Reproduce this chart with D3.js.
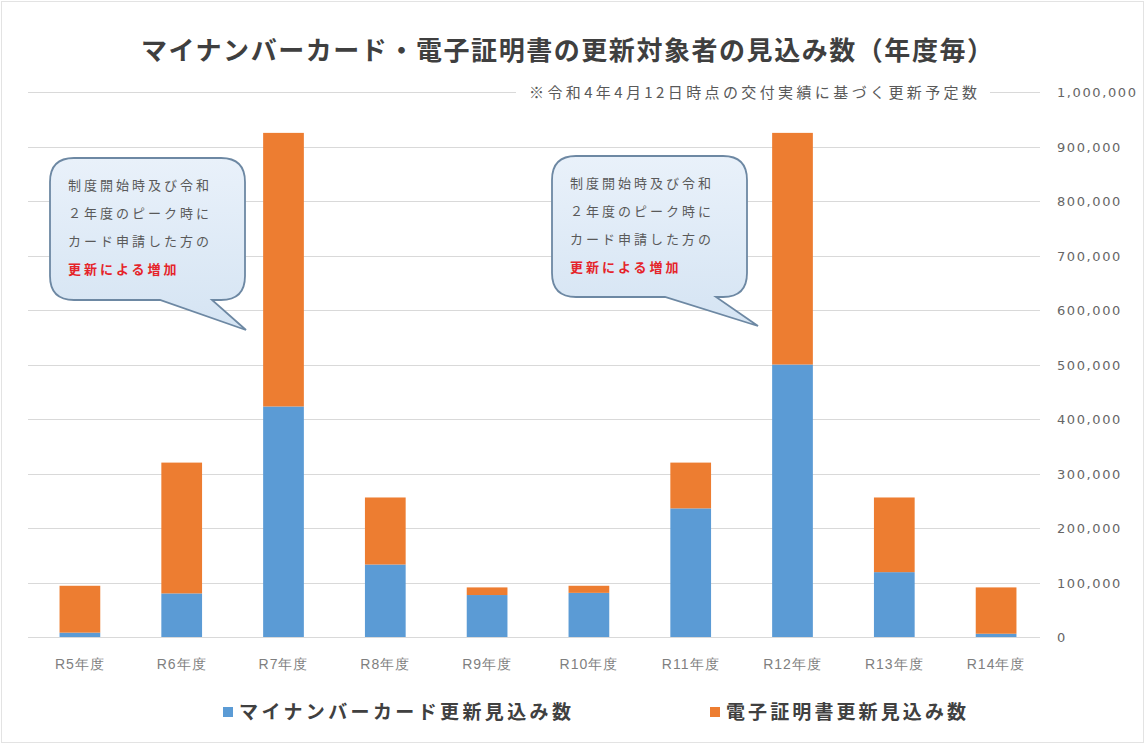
<!DOCTYPE html>
<html>
<head>
<meta charset="utf-8">
<script src="https://cdn.jsdelivr.net/npm/d3@7"></script>
<style>
  html, body { margin: 0; padding: 0; background: #fff; }
  svg { display: block; font-family: "Noto Sans CJK JP", "Noto Sans", sans-serif; }
</style>
</head>
<body>
<svg id="chart" width="1145" height="744"></svg>
<script>
// Fiscal years (Reiwa era)
const categories = ["R5年度", "R6年度", "R7年度", "R8年度", "R9年度", "R10年度", "R11年度", "R12年度", "R13年度", "R14年度"];
// Expected My Number card renewals per year
const cardRenewals = [8000, 80000, 423000, 133000, 77000, 81000, 236000, 500000, 119000, 6000];
// Expected electronic certificate renewals per year
const certRenewals = [86000, 240000, 502000, 123000, 14000, 13000, 84000, 425000, 137000, 85000];
const seriesNames = ["マイナンバーカード更新見込み数", "電子証明書更新見込み数"];
const yTicks = [0, 100000, 200000, 300000, 400000, 500000, 600000, 700000, 800000, 900000, 1000000];
const calloutLines = ["制度開始時及び令和", "２年度のピーク時に", "カード申請した方の", "更新による増加"];

const colors = ["#5b9bd5", "#ed7d31"];
const svg = d3.select("#chart");
const W = 1145, H = 744;

svg.append("rect").attr("x", 1.5).attr("y", 1.5).attr("width", W - 3).attr("height", H - 3)
  .attr("fill", "#fff").attr("stroke", "#e3e3e3");

const x = d3.scaleBand().domain(categories).range([29, 1047]).paddingInner(0.6).paddingOuter(0.3);
const y = d3.scaleLinear().domain([0, 1000000]).range([637, 92]);

// gridlines
svg.append("g").selectAll("line").data(yTicks).join("line")
  .attr("x1", 28).attr("x2", 1040)
  .attr("y1", d => Math.round(y(d)) + 0.5).attr("y2", d => Math.round(y(d)) + 0.5)
  .attr("stroke", "#d9d9d9").attr("stroke-width", 1);

// right-hand value axis
const yAxis = d3.axisRight(y).tickValues(yTicks).tickSize(0).tickPadding(0)
  .tickFormat(d3.format(","));
const ya = svg.append("g").attr("transform", "translate(1057,0)").call(yAxis);
ya.select(".domain").remove();
ya.selectAll("text").attr("fill", "#666").attr("font-size", 13).attr("letter-spacing", 1.6)
  .attr("font-family", "'DejaVu Sans', sans-serif").attr("dy", "0.35em");

// stacked bars
const rows = categories.map((c, i) => ({ cat: c, card: cardRenewals[i], cert: certRenewals[i] }));
const stack = d3.stack().keys(["card", "cert"])(rows);
svg.append("g").selectAll("g").data(stack).join("g")
  .attr("fill", (d, i) => colors[i])
  .selectAll("rect").data(d => d).join("rect")
  .attr("x", d => x(d.data.cat))
  .attr("width", x.bandwidth())
  .attr("y", d => y(d[1]))
  .attr("height", d => y(d[0]) - y(d[1]));

// category axis
const xAxis = d3.axisBottom(x).tickSize(0).tickPadding(0);
const xa = svg.append("g").attr("transform", "translate(0,664)").call(xAxis);
xa.select(".domain").remove();
xa.selectAll("text").attr("fill", "#7f7f7f").attr("font-size", 14).attr("letter-spacing", 1)
  .attr("dy", "0.35em");

// title
svg.append("text").attr("x", 567).attr("y", 60).attr("text-anchor", "middle")
  .attr("font-size", 26).attr("font-weight", "bold").attr("fill", "#3f3f3f")
  .attr("textLength", 852).attr("lengthAdjust", "spacing")
  .text("マイナンバーカード・電子証明書の更新対象者の見込み数（年度毎）");

// note sitting on the top gridline
svg.append("rect").attr("x", 516).attr("y", 82).attr("width", 474).attr("height", 22).attr("fill", "#fff");
svg.append("text").attr("x", 529).attr("y", 98)
  .attr("font-size", 15).attr("fill", "#595959")
  .attr("textLength", 448).attr("lengthAdjust", "spacing")
  .text("※令和4年4月12日時点の交付実績に基づく更新予定数");

// callouts
const defs = svg.append("defs");
const grad = defs.append("linearGradient").attr("id", "calloutFill").attr("x1", 0).attr("y1", 0).attr("x2", 0).attr("y2", 1);
grad.append("stop").attr("offset", "0%").attr("stop-color", "#e9f1fa");
grad.append("stop").attr("offset", "100%").attr("stop-color", "#d5e4f3");

function callout(left, top, right, bottom, tailA, tailB, tipX, tipY) {
  const r = 24;
  const p = d3.path();
  p.moveTo(left + r, top);
  p.lineTo(right - r, top);
  p.quadraticCurveTo(right, top, right, top + r);
  p.lineTo(right, bottom - r);
  p.quadraticCurveTo(right, bottom, right - r, bottom);
  p.lineTo(tailB, bottom);
  p.lineTo(tipX, tipY);
  p.lineTo(tailA, bottom);
  p.lineTo(left + r, bottom);
  p.quadraticCurveTo(left, bottom, left, bottom - r);
  p.lineTo(left, top + r);
  p.quadraticCurveTo(left, top, left + r, top);
  p.closePath();
  const g = svg.append("g");
  g.append("path").attr("d", p.toString()).attr("fill", "url(#calloutFill)")
    .attr("stroke", "#6d88a3").attr("stroke-width", 1.8);
  calloutLines.forEach((t, i) => {
    const last = i === calloutLines.length - 1;
    g.append("text").attr("x", left + 18).attr("y", top + 32 + i * 28)
      .attr("font-size", 13).attr("letter-spacing", 3)
      .attr("font-weight", last ? "bold" : "normal")
      .attr("fill", last ? "#e5242a" : "#595959")
      .text(t);
  });
}
callout(50, 158, 245, 300, 160, 212, 246, 330);
callout(552, 156, 747, 297, 665, 716, 758, 326);

// legend
const legend = svg.append("g").attr("transform", "translate(0,712)");
const legendX = [223, 710];
seriesNames.forEach((n, i) => {
  legend.append("rect").attr("x", legendX[i]).attr("y", -5).attr("width", 10).attr("height", 10).attr("fill", colors[i]);
  legend.append("text").attr("x", legendX[i] + 16).attr("y", 0).attr("dy", "0.36em")
    .attr("font-size", 19).attr("font-weight", "bold").attr("fill", "#404040")
    .attr("textLength", i === 0 ? 332 : 240).attr("lengthAdjust", "spacing")
    .text(n);
});
</script>
</body>
</html>
